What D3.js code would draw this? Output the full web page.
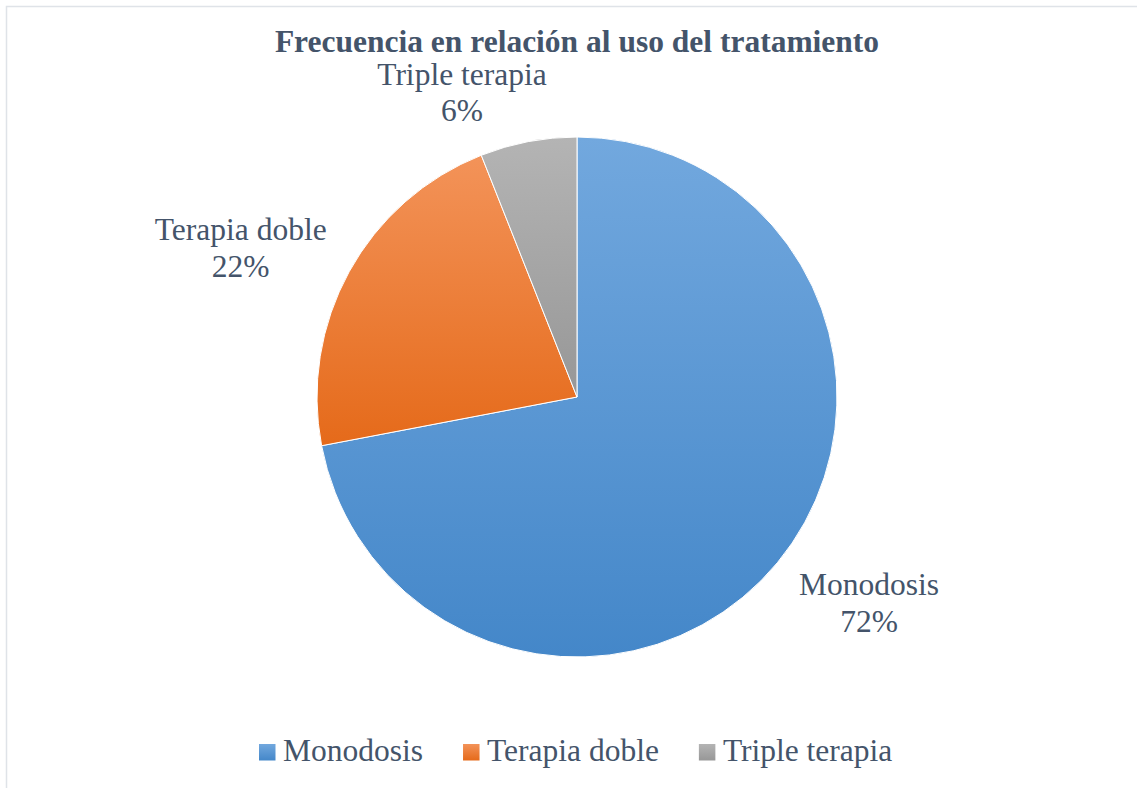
<!DOCTYPE html>
<html>
<head>
<meta charset="utf-8">
<script src="https://cdn.jsdelivr.net/npm/d3@7"></script>
<style>
  html, body { margin: 0; padding: 0; background: #fff; }
  svg { display: block; }
</style>
</head>
<body>
<script>
// ---- data ----
const categories = ["Monodosis", "Terapia doble", "Triple terapia"];
const values = [72, 22, 6];
const percentLabels = ["72%", "22%", "6%"];
const title = "Frecuencia en relación al uso del tratamiento";

// ---- styles ----
const gradStops = [
  ["#72a8de", "#4487c9"],
  ["#f39359", "#e56a1a"],
  ["#b4b4b4", "#979797"]
];
const textColor = "#44546a";
const font = "'Liberation Serif', 'Times New Roman', serif";

const W = 1137, H = 788;
const cx = 577, cy = 397, R = 260;

const svg = d3.select("body").append("svg")
  .attr("width", W).attr("height", H);

// chart area border
svg.append("rect")
  .attr("x", 6.5).attr("y", 6.5)
  .attr("width", W + 10).attr("height", H + 10)
  .attr("fill", "#fff")
  .attr("stroke", "#dfe3e8").attr("stroke-width", 1.5);

const defs = svg.append("defs");
categories.forEach((c, i) => {
  const g = defs.append("linearGradient")
    .attr("id", "grad" + i)
    .attr("x1", 0).attr("y1", 0).attr("x2", 0).attr("y2", 1);
  g.append("stop").attr("offset", "0%").attr("stop-color", gradStops[i][0]);
  g.append("stop").attr("offset", "100%").attr("stop-color", gradStops[i][1]);
});

// title
svg.append("text")
  .attr("x", cx).attr("y", 52)
  .attr("text-anchor", "middle")
  .attr("font-family", font)
  .attr("font-weight", "bold")
  .attr("font-size", 31.5)
  .attr("fill", textColor)
  .text(title);

// pie
const pie = d3.pie().sort(null).value(d => d.value);
const arcs = pie(categories.map((c, i) => ({ name: c, value: values[i], pct: percentLabels[i], i })));
const arc = d3.arc().innerRadius(0).outerRadius(R);

const gPie = svg.append("g").attr("transform", `translate(${cx},${cy})`);
gPie.selectAll("path")
  .data(arcs)
  .join("path")
  .attr("d", arc)
  .attr("fill", d => `url(#grad${d.data.i})`)
  .attr("stroke", "#fff")
  .attr("stroke-width", 1);

// data labels (outside end)
const labelRx = R + 60, labelRy = R + 57;
const gLab = svg.append("g");
arcs.forEach(d => {
  const a = (d.startAngle + d.endAngle) / 2;
  const ux = Math.sin(a), uy = -Math.cos(a);
  const t = gLab.append("text")
    .attr("text-anchor", "middle")
    .attr("font-family", font)
    .attr("font-size", 31.5)
    .attr("fill", textColor);
  t.append("tspan").text(d.data.name);
  const w = t.node().getComputedTextLength();
  const x = cx + ux * labelRx + Math.sign(ux) * 0.65 * w / 2;
  const y = cy + uy * labelRy - 4 + (uy < -0.9 ? 3 : 0);
  t.select("tspan").attr("x", x).attr("y", y);
  t.append("tspan").attr("x", x).attr("y", y + 36.5).text(d.data.pct);
});

// legend
const legend = svg.append("g");
const legendY = 761;
let lx = 259;
categories.forEach((c, i) => {
  legend.append("rect")
    .attr("x", lx).attr("y", legendY - 17)
    .attr("width", 16.5).attr("height", 16.5)
    .attr("fill", `url(#grad${i})`);
  const t = legend.append("text")
    .attr("x", lx + 24).attr("y", legendY)
    .attr("font-family", font)
    .attr("font-size", 31.5)
    .attr("fill", textColor)
    .text(c);
  const w = t.node().getComputedTextLength();
  lx = lx + 24 + w + 40;
});
</script>
</body>
</html>
